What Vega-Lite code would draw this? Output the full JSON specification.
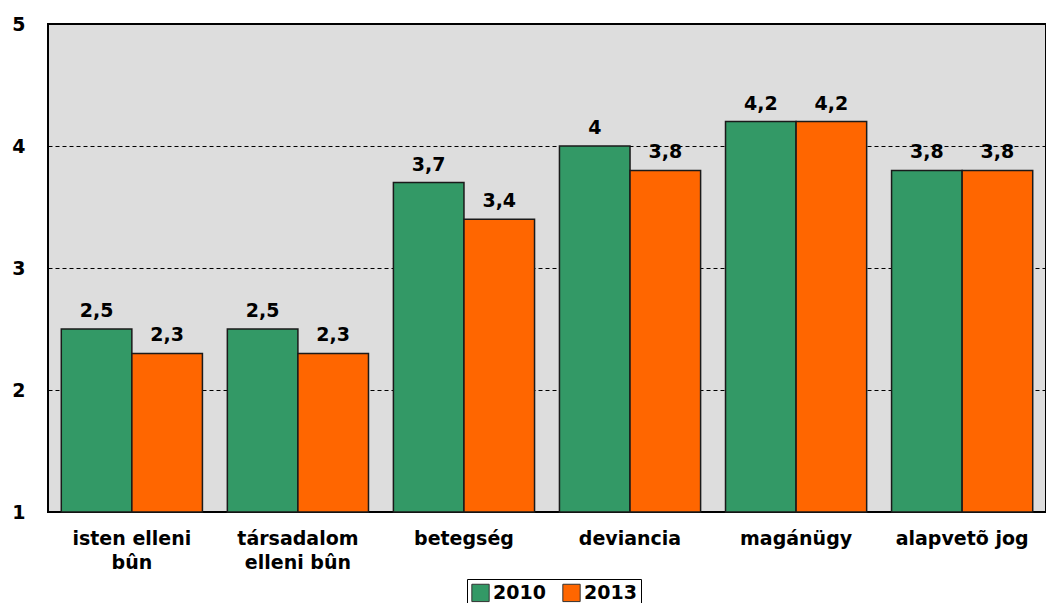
{
  "$schema": "https://vega.github.io/schema/vega-lite/v6.json",
  "width": 998,
  "height": 488,
  "autosize": "none",
  "padding": {"left": 48, "top": 24, "right": 0, "bottom": 91},
  "background": "white",
  "config": {
    "font": "DejaVu Sans",
    "locale": {"number": {"decimal": ",", "thousands": " ", "grouping": [3], "currency": ["", ""]}},
    "view": {"fill": "#DDDDDD", "stroke": "black", "strokeWidth": 2}
  },
  "data": {
    "values": [
      {"kategoria": "isten elleni bûn", "ev": "2010", "ertek": 2.5},
      {"kategoria": "isten elleni bûn", "ev": "2013", "ertek": 2.3},
      {"kategoria": "társadalom elleni bûn", "ev": "2010", "ertek": 2.5},
      {"kategoria": "társadalom elleni bûn", "ev": "2013", "ertek": 2.3},
      {"kategoria": "betegség", "ev": "2010", "ertek": 3.7},
      {"kategoria": "betegség", "ev": "2013", "ertek": 3.4},
      {"kategoria": "deviancia", "ev": "2010", "ertek": 4.0},
      {"kategoria": "deviancia", "ev": "2013", "ertek": 3.8},
      {"kategoria": "magánügy", "ev": "2010", "ertek": 4.2},
      {"kategoria": "magánügy", "ev": "2013", "ertek": 4.2},
      {"kategoria": "alapvetõ jog", "ev": "2010", "ertek": 3.8},
      {"kategoria": "alapvetõ jog", "ev": "2013", "ertek": 3.8}
    ]
  },
  "encoding": {
    "x": {
      "field": "kategoria",
      "type": "nominal",
      "sort": null,
      "scale": {"paddingInner": 0.15, "paddingOuter": 0.08},
      "axis": {
        "title": null,
        "domain": false,
        "ticks": false,
        "labelAngle": 0,
        "labelFont": "DejaVu Sans",
        "labelFontWeight": "bold",
        "labelFontSize": 19,
        "labelColor": "black",
        "labelPadding": 17,
        "labelLineHeight": 24,
        "labelBaseline": "top",
        "labelExpr": "datum.value == 'isten elleni bûn' ? ['isten elleni', 'bûn'] : datum.value == 'társadalom elleni bûn' ? ['társadalom', 'elleni bûn'] : datum.label"
      }
    },
    "xOffset": {"field": "ev", "type": "nominal", "scale": {"paddingInner": 0, "paddingOuter": 0}},
    "y": {
      "field": "ertek",
      "type": "quantitative",
      "scale": {"domain": [1, 5], "nice": false, "zero": false},
      "axis": {
        "title": null,
        "values": [1, 2, 3, 4, 5],
        "domain": false,
        "ticks": false,
        "grid": true,
        "gridColor": "black",
        "gridDash": [4, 3],
        "gridWidth": 1,
        "labelFont": "DejaVu Sans",
        "labelFontWeight": "bold",
        "labelFontSize": 19,
        "labelColor": "black",
        "labelPadding": 23
      }
    }
  },
  "layer": [
    {
      "mark": {"type": "bar", "stroke": "#1a1a1a", "strokeWidth": 1.5},
      "encoding": {
        "y2": {"datum": 1},
        "color": {
          "field": "ev",
          "type": "nominal",
          "scale": {"domain": ["2010", "2013"], "range": ["#339966", "#FF6600"]},
          "legend": {
            "title": null,
            "orient": "none",
            "legendX": 419,
            "legendY": 555,
            "direction": "horizontal",
            "strokeColor": "black",
            "fillColor": "white",
            "padding": 4,
            "symbolType": "square",
            "symbolSize": 300,
            "symbolStrokeColor": "#333333",
            "symbolStrokeWidth": 1,
            "labelFont": "DejaVu Sans",
            "labelFontWeight": "bold",
            "labelFontSize": 19,
            "labelColor": "black",
            "labelOffset": 3,
            "columnPadding": 14,
            "labelExpr": "datum.label == '2013' ? '2013\u00a0\u00a0\u00a0\u00a0' : datum.label"
          }
        }
      }
    },
    {
      "mark": {"type": "text", "baseline": "alphabetic", "dy": -12, "fontWeight": "bold", "fontSize": 19, "font": "DejaVu Sans", "color": "black"},
      "encoding": {
        "text": {"field": "ertek", "type": "quantitative", "format": ".1~f"}
      }
    }
  ]
}
